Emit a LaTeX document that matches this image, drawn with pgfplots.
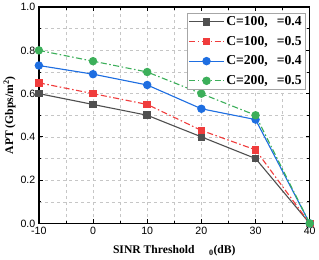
\documentclass[border=0pt]{standalone}
\usepackage{fontspec}
\setmainfont{Liberation Serif}
\setsansfont{Liberation Sans}
\usepackage{pgfplots}
\pgfplotsset{compat=1.18}
\definecolor{cgray}{RGB}{80,80,80}
\definecolor{cred}{RGB}{240,60,60}
\definecolor{cblue}{RGB}{30,110,225}
\definecolor{cgreen}{RGB}{60,175,90}
\begin{document}
\begin{tikzpicture}
\begin{axis}[
  scale only axis, width=268pt, height=214pt,
  xmin=-10, xmax=40, ymin=0, ymax=1,
  xtick={-10,0,10,20,30,40}, ytick={0,0.2,0.4,0.6,0.8,1.0},
  minor xtick={-5,5,15,25,35}, minor ytick={0.1,0.3,0.5,0.7,0.9},
  yticklabel style={/pgf/number format/fixed,/pgf/number format/fixed zerofill,/pgf/number format/precision=1},
  /pgf/number format/assume math mode=true,
  ticklabel style={font=\sffamily\fontsize{10.5}{12}\selectfont},
  tick align=inside, major tick length=4pt, minor tick length=2.5pt,
  tick style={black, line width=0.8pt},
  grid=both,
  major grid style={gray!45, dashed, line width=0.5pt},
  minor grid style={gray!45, dashed, line width=0.5pt},
  axis line style={line width=1.3pt},
  xlabel={\textbf{SINR Threshold \quad$_\mathbf{0}$(dB)}},
  ylabel={\textbf{APT (Gbps/m$^\mathbf{2}$)}},
  label style={font=\fontsize{11.5}{13}\selectfont},
  xlabel style={yshift=-4pt},
  ylabel style={yshift=-2pt},
  legend style={at={(0.985,0.975)}, anchor=north east, draw=gray!70, line width=0.8pt,
     font=\bfseries\fontsize{13.5}{15}\selectfont, row sep=5pt, inner sep=1.5pt},
  legend cell align=left,
  legend image code/.code={\draw[mark repeat=2,mark phase=2] plot coordinates {(0pt,0pt)(17pt,0pt)(34pt,0pt)};},
  every axis plot/.append style={line width=1.1pt},
  dd/.style={dash pattern=on 6pt off 2.5pt on 1.5pt off 2.5pt},
]
\addplot[cgray, mark=square*, mark size=3.2pt, mark options={solid}] coordinates {(-10,0.60)(0,0.55)(10,0.50)(20,0.40)(30,0.30)(40,0.0)};
\addlegendentry{C=100,\ \ \,=0.4}
\addplot[cred, dd, mark=square*, mark size=3.2pt, mark options={solid}] coordinates {(-10,0.65)(0,0.60)(10,0.55)(20,0.43)(30,0.34)(40,0.0)};
\addlegendentry{C=100,\ \ \,=0.5}
\addplot[cblue, mark=*, mark size=3.6pt, mark options={solid}] coordinates {(-10,0.73)(0,0.69)(10,0.64)(20,0.53)(30,0.48)(40,0.0)};
\addlegendentry{C=200,\ \ \,=0.4}
\addplot[cgreen, dd, mark=*, mark size=3.6pt, mark options={solid}] coordinates {(-10,0.80)(0,0.75)(10,0.70)(20,0.60)(30,0.50)(40,0.0)};
\addlegendentry{C=200,\ \ \,=0.5}
\end{axis}
\end{tikzpicture}
\end{document}
